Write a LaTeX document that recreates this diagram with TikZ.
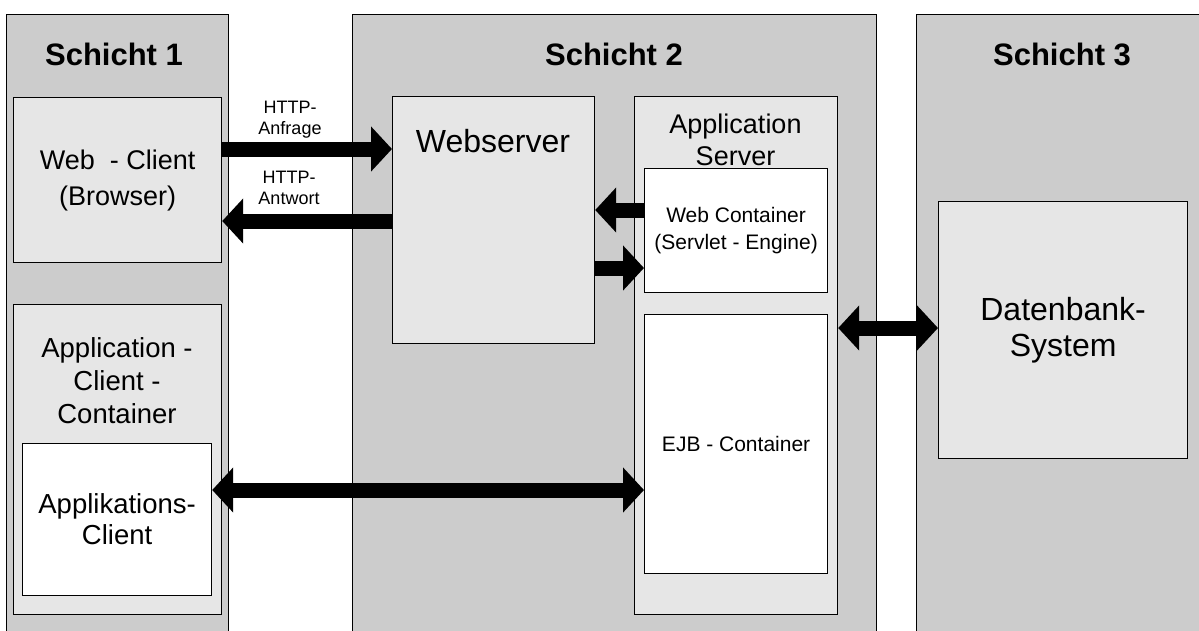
\documentclass[tikz,border=0pt]{standalone}
\usepackage{fontspec}
\setmainfont{Liberation Sans}
\usetikzlibrary{arrows.meta}
\definecolor{colgray}{RGB}{204,204,204}
\definecolor{boxgray}{RGB}{230,230,230}
\begin{document}
\begin{tikzpicture}[x=1pt,y=-1pt,
  column/.style={draw=black, fill=colgray, line width=1.2pt, inner sep=0pt, anchor=north west},
  box/.style={draw=black, line width=1.2pt, inner sep=0pt, anchor=north west, align=center},
  graybox/.style={box, fill=boxgray},
  whitebox/.style={box, fill=white},
  head/.style={font=\fontsize{31}{36}\selectfont\bfseries, anchor=base, inner sep=0pt},
  lbl/.style={inner sep=0pt, align=center},
  small/.style={lbl, font=\fontsize{18}{21}\selectfont, anchor=north},
  bigarrow/.style={line width=15pt, -{Triangle[length=21pt,width=44pt]}},
  dblarrow/.style={line width=15pt, {Triangle[length=21pt,width=44pt]}-{Triangle[length=21pt,width=44pt]}}
]
\useasboundingbox (0,0) rectangle (1199,630);
\begin{scope}
\clip (0,0) rectangle (1199,630);
% columns
\node[column, minimum width=222pt, minimum height=640pt] (col1) at (6,14) {};
\node[column, minimum width=524pt, minimum height=640pt] (col2) at (352,14) {};
\node[column, minimum width=292pt, minimum height=640pt] (col3) at (916,14) {};
\node[head] (h1) at (114,65) {Schicht 1};
\node[head] (h2) at (614,65) {Schicht 2};
\node[head] (h3) at (1062,65) {Schicht 3};

% Schicht 1
\node[graybox, minimum width=208pt, minimum height=165pt, font=\fontsize{27}{36}\selectfont]
  (webclient) at (13,97) {Web\ \ - Client\\(Browser)};
\node[graybox, minimum width=208pt, minimum height=310pt] (acc) at (13,304) {};
\node[lbl, anchor=north, font=\fontsize{27.5}{33}\selectfont] (acclbl) at (117,337)
  {Application -\\Client -\\Container};
\node[whitebox, minimum width=189pt, minimum height=152pt, font=\fontsize{27.5}{31}\selectfont]
  (appclient) at (22,443) {Applikations-\\Client};

% Schicht 2
\node[graybox, minimum width=202pt, minimum height=247pt] (webserver) at (392,96) {};
\node[lbl, anchor=base, font=\fontsize{32}{38}\selectfont] (wslbl) at (493,152) {Webserver};
\node[graybox, minimum width=203pt, minimum height=518pt] (appserver) at (634,96) {};
\node[lbl, anchor=north, font=\fontsize{27}{32}\selectfont] (aslbl) at (735.5,113.5)
  {Application\\Server};
\node[whitebox, minimum width=183pt, minimum height=124pt, font=\fontsize{21}{27}\selectfont]
  (webcont) at (644,168) {Web Container\\(Servlet - Engine)};
\node[whitebox, minimum width=183pt, minimum height=259pt, font=\fontsize{21}{27}\selectfont]
  (ejb) at (644,314) {EJB - Container};

% Schicht 3
\node[graybox, minimum width=249pt, minimum height=257pt, font=\fontsize{32}{36}\selectfont]
  (db) at (938,201) {Datenbank-\\System};

% labels
\node[small] (anfrage) at (290,101) {HTTP-\\Anfrage};
\node[small] (antwort) at (289,171) {HTTP-\\Antwort};

% arrows
\draw[bigarrow] (webclient.east |- 0,149) -- (webserver.west |- 0,149);
\draw[bigarrow] (webserver.west |- 0,221) -- (webclient.east |- 0,221);
\draw[bigarrow] (webcont.west |- 0,210) -- (webserver.east |- 0,210);
\draw[bigarrow] (webserver.east |- 0,268) -- (webcont.west |- 0,268);
\draw[dblarrow] (appclient.east |- 0,490) -- (ejb.west |- 0,490);
\draw[dblarrow] (appserver.east |- 0,328) -- (db.west |- 0,328);
\end{scope}
\end{tikzpicture}
\end{document}
